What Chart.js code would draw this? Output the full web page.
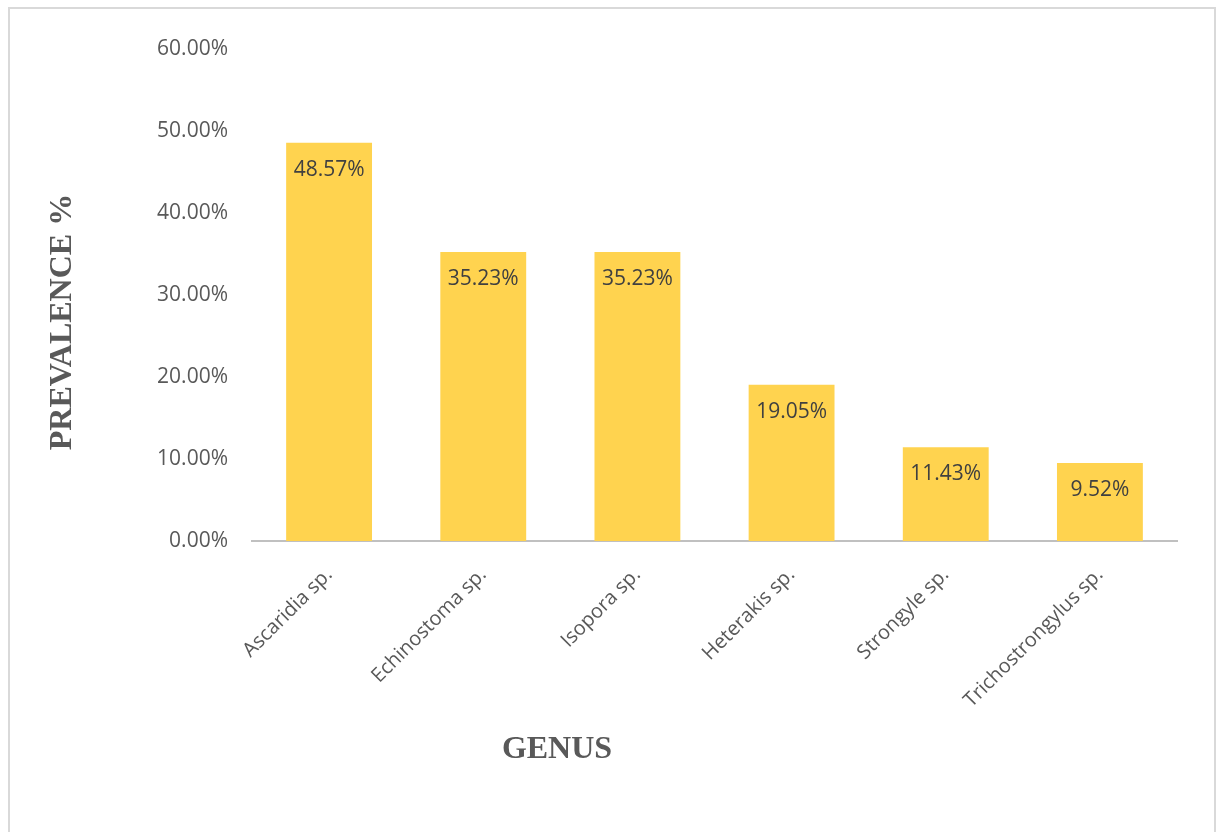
<!DOCTYPE html>
<html>
<head>
<meta charset="utf-8">
<script src="https://cdn.jsdelivr.net/npm/chart.js@4"></script>
<style>
	html, body { margin: 0; padding: 0; background: #fff; }
	#moldura { position: absolute; left: 8px; top: 7px; width: 1204px; height: 840px; border: 2px solid #d9d9d9; pointer-events: none; }
	#graficoPrevalencia { position: absolute; left: 0; top: 0; }
</style>
</head>
<body>
<canvas id="graficoPrevalencia" width="1216" height="832"></canvas>
<div id="moldura"></div>
<script>
var generos = ['Ascaridia sp.', 'Echinostoma sp.', 'Isopora sp.', 'Heterakis sp.', 'Strongyle sp.', 'Trichostrongylus sp.'];
var prevalencias = [48.57, 35.23, 35.23, 19.05, 11.43, 9.52];
var tituloY = 'PREVALENCE %';
var tituloX = 'GENUS';

var Resketch = Resketch || {};

Resketch.GraficoPrevalencia = (function() {

	function GraficoPrevalencia() {
		this.ctx = document.getElementById('graficoPrevalencia').getContext('2d');
	}

	// rotulos dentro do topo de cada barra
	var rotulosBarras = {
		id: 'rotulosBarras',
		afterDatasetsDraw: function(chart) {
			var ctx = chart.ctx;
			var meta = chart.getDatasetMeta(0);
			ctx.save();
			ctx.font = '21px "Open Sans"';
			ctx.fillStyle = '#404040';
			ctx.textAlign = 'center';
			ctx.textBaseline = 'middle';
			meta.data.forEach(function(barra, i) {
				ctx.fillText(prevalencias[i].toFixed(2) + '%', barra.x, barra.y + 27);
			});
			ctx.restore();
		}
	};

	// titulos dos eixos
	var titulosEixos = {
		id: 'titulosEixos',
		afterDraw: function(chart) {
			var ctx = chart.ctx;
			var area = chart.chartArea;
			ctx.save();
			ctx.font = 'bold 32px "Liberation Serif"';
			ctx.fillStyle = '#595959';
			ctx.textAlign = 'center';
			ctx.textBaseline = 'middle';
			ctx.fillText(tituloX, area.left + 305, area.bottom + 209);
			ctx.translate(area.left - 189, (area.top + area.bottom) / 2 + 27);
			ctx.rotate(-Math.PI / 2);
			ctx.fillText(tituloY, 0, 0);
			ctx.restore();
		}
	};

	GraficoPrevalencia.prototype.iniciar = function() {
		new Chart(this.ctx, {
			type: 'bar',
			data: {
				labels: generos,
				datasets: [{
					data: prevalencias,
					backgroundColor: '#FFD34F',
					borderWidth: 0,
					categoryPercentage: 1,
					barPercentage: 0.557
				}]
			},
			options: {
				responsive: false,
				animation: false,
				layout: { padding: { left: 0, right: 39, top: 49, bottom: 0 } },
				plugins: {
					legend: { display: false },
					tooltip: { enabled: false }
				},
				scales: {
					x: {
						grid: { display: false, drawTicks: false },
						border: { display: true, color: '#c0c0c0', width: 2 },
						ticks: {
							font: { family: 'Open Sans', size: 20 },
							color: '#595959',
							minRotation: 45,
							maxRotation: 45,
							padding: 22
						},
						afterFit: function(escala) { escala.height = 291; }
					},
					y: {
						min: 0,
						max: 60,
						grid: { display: false, drawTicks: false },
						border: { display: false },
						ticks: {
							stepSize: 10,
							font: { family: 'Open Sans', size: 21 },
							color: '#595959',
							padding: 24,
							callback: function(valor) { return valor.toFixed(2) + '%'; }
						},
						afterFit: function(escala) { escala.width = 252; }
					}
				}
			},
			plugins: [rotulosBarras, titulosEixos]
		});
	};

	return GraficoPrevalencia;

}());

var graficoPrevalencia = new Resketch.GraficoPrevalencia();
graficoPrevalencia.iniciar();
</script>
</body>
</html>
